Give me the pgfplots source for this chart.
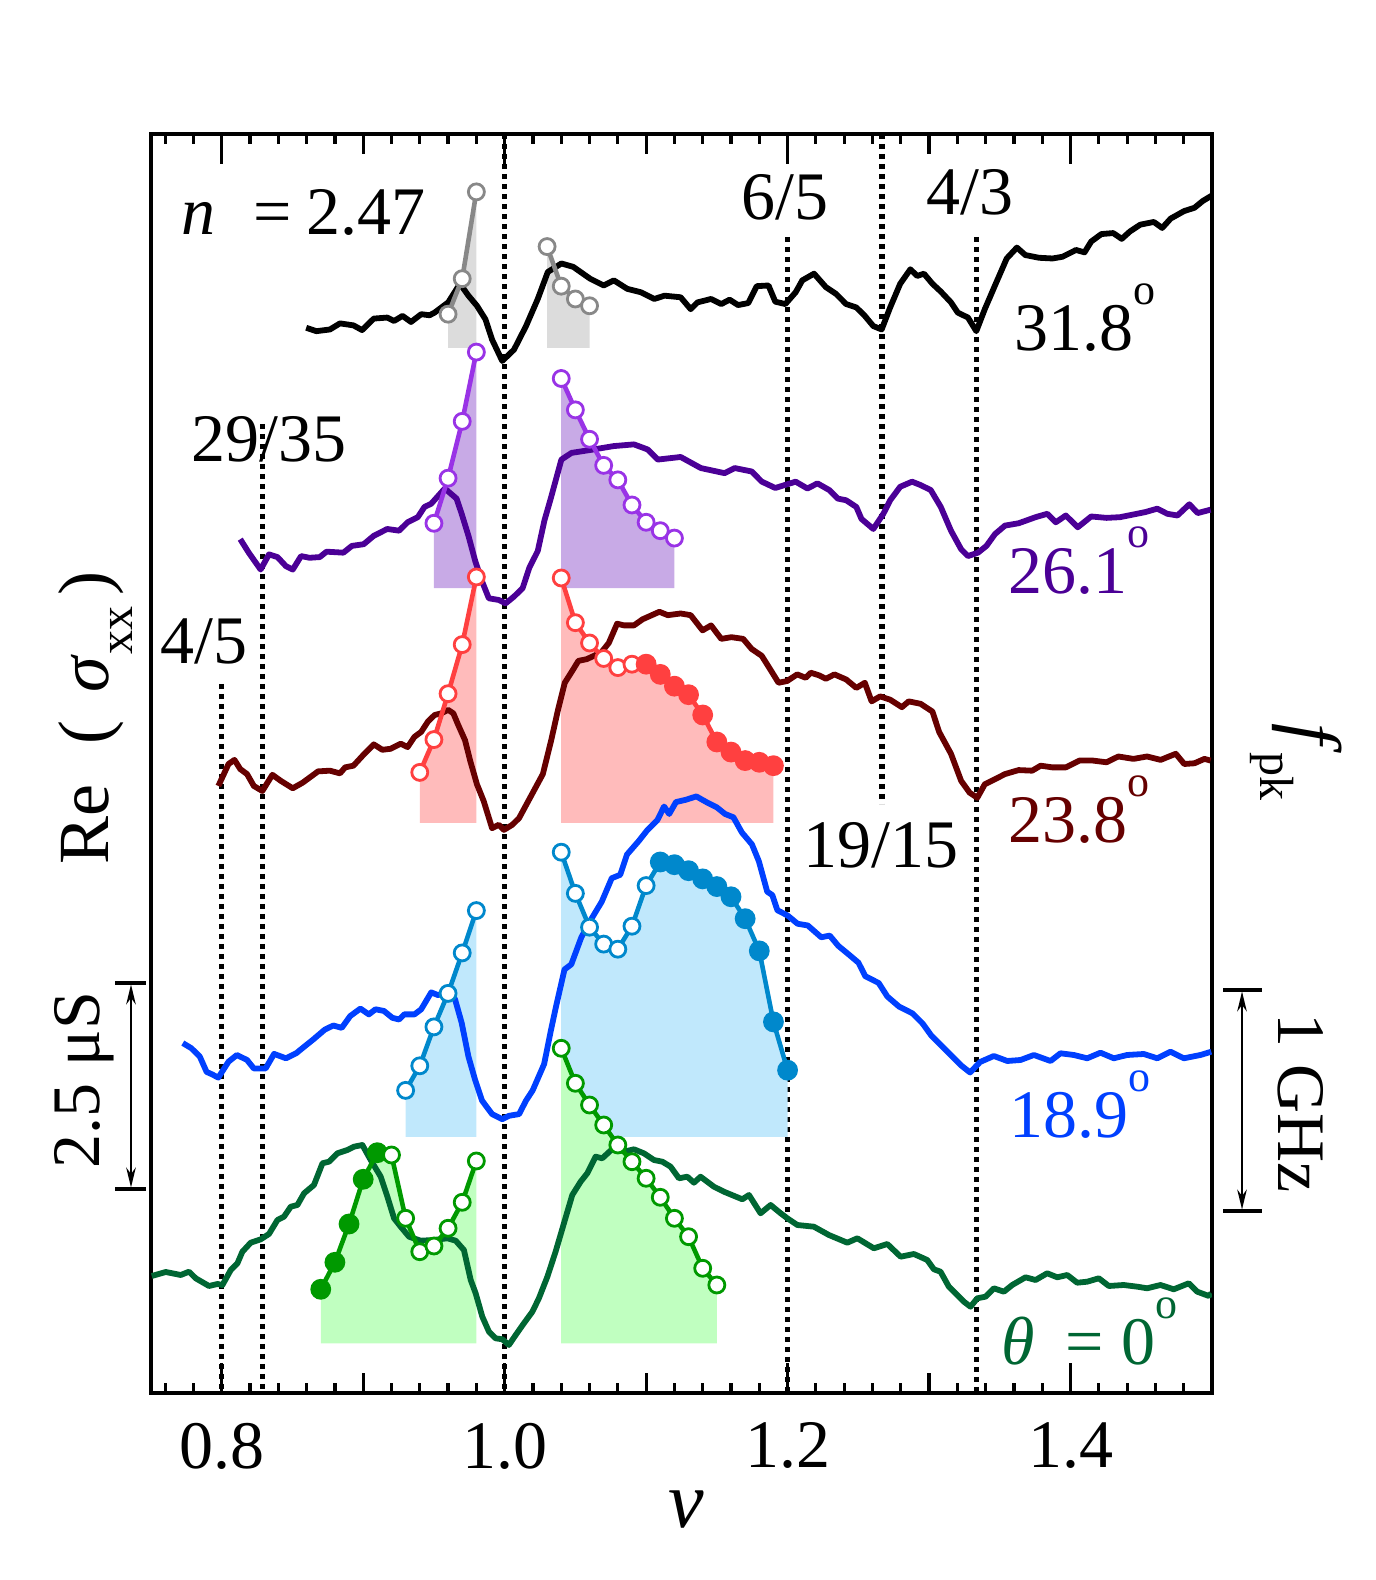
\documentclass[border=0pt]{standalone}
\usepackage{fontspec}
\setmainfont{Liberation Serif}
\usepackage{pgfplots}
\pgfplotsset{compat=1.18}
\usetikzlibrary{arrows.meta}
\definecolor{cPurple}{HTML}{4B0096}
\definecolor{cPurpleM}{HTML}{9933E6}
\definecolor{cPurpleF}{HTML}{C8AAE6}
\definecolor{cMaroon}{HTML}{660000}
\definecolor{cRed}{HTML}{FF4040}
\definecolor{cRedF}{HTML}{FFBBBB}
\definecolor{cBlue}{HTML}{0040FF}
\definecolor{cBlueM}{HTML}{0088CC}
\definecolor{cBlueF}{HTML}{C0E8FC}
\definecolor{cGreen}{HTML}{006633}
\definecolor{cGreenM}{HTML}{009900}
\definecolor{cGreenF}{HTML}{C0FFC0}
\definecolor{cGray}{HTML}{888888}
\definecolor{cGrayF}{HTML}{DCDCDC}
\newcommand{\dg}{\raisebox{11.5pt}{\fontsize{11}{11}\selectfont o}}
\pgfplotsset{
  dotline/.style={black, line width=1.3pt, dash pattern=on 1.3pt off 1.2pt, forget plot},
  curve/.style={line width=1.45pt, line join=round, mark=none},
  mline/.style={line width=1.15pt, line join=round, mark=none},
  omark/.style={only marks, mark=*, mark size=2.0pt, mark options={draw=#1, fill=white, line width=0.7pt}},
  fmark/.style={only marks, mark=*, mark size=2.4pt, mark options={draw=#1, fill=#1, line width=0.4pt}},
}
\begin{document}
\fontsize{17}{20}\selectfont
\begin{tikzpicture}
\useasboundingbox (0,0) rectangle (343.75pt,395pt);
\begin{axis}[
  at={(37.75pt,46.75pt)}, anchor=south west,
  scale only axis, width=265.25pt, height=314.75pt,
  xmin=0.75, xmax=1.5, ymin=-1393, ymax=-134,
  ytick=\empty,
  xtick={0.8,1.0,1.2,1.4}, xticklabels={0.8,1.0,1.2,1.4},
  minor xtick={0.76,0.78,0.82,0.84,0.86,0.88,0.92,0.94,0.96,0.98,1.02,1.04,1.06,1.08,1.12,1.14,1.16,1.18,1.22,1.24,1.26,1.28,1.32,1.34,1.36,1.38,1.42,1.44,1.46,1.48},
  extra x ticks={0.9,1.1,1.3}, extra x tick labels={},
  extra x tick style={tickwidth=5pt, grid=none},
  tick align=inside, xtick pos=both,
  tickwidth=7.5pt, subtickwidth=2.5pt,
  every tick/.style={draw=black, line width=0.8pt},
  axis line style={line width=1pt},
  tick label style={font=\fontsize{17}{17}\selectfont},
  xticklabel style={inner sep=0pt, yshift=-7.25pt},
  /pgf/number format/assume math mode=true,
]
% reference lines
\addplot[dotline] coordinates {(0.8,-684) (0.8,-1393)};
\addplot[dotline] coordinates {(0.828571,-424) (0.828571,-1393)};
\addplot[dotline] coordinates {(1.0,-134) (1.0,-1393)};
\addplot[dotline] coordinates {(1.2,-237) (1.2,-1393)};
\addplot[dotline] coordinates {(1.266667,-134) (1.266667,-804)};
\addplot[dotline] coordinates {(1.333333,-237) (1.333333,-1393)};
% fills
\addplot[fill=cGrayF, draw=none] coordinates {(0.96,-348) (0.96,-314.2) (0.97,-278.7) (0.98,-191.9) (0.98,-348)} --cycle;
\addplot[fill=cGrayF, draw=none] coordinates {(1.03,-348) (1.03,-246.6) (1.04,-286.2) (1.05,-299.0) (1.06,-305.8) (1.06,-348)} --cycle;
\addplot[fill=cPurpleF, draw=none] coordinates {(0.95,-588.2) (0.95,-523.3) (0.96,-478.2) (0.97,-421.4) (0.98,-352.1) (0.98,-588.2)} --cycle;
\addplot[fill=cPurpleF, draw=none] coordinates {(1.04,-588.2) (1.04,-378.5) (1.05,-409.9) (1.06,-439.3) (1.07,-465.4) (1.08,-479.9) (1.09,-505.0) (1.10,-522.3) (1.11,-530.7) (1.12,-538.1) (1.12,-588.2)} --cycle;
\addplot[fill=cRedF, draw=none] coordinates {(0.94,-823) (0.94,-772.4) (0.95,-739.6) (0.96,-693.7) (0.97,-644.6) (0.98,-577.0) (0.98,-823)} --cycle;
\addplot[fill=cRedF, draw=none] coordinates {(1.04,-823) (1.04,-578.0) (1.05,-622.7) (1.06,-643.0) (1.07,-658.5) (1.08,-667.6) (1.09,-664.2) (1.10,-664.2) (1.11,-674.4) (1.12,-686.2) (1.13,-694.7) (1.14,-715.0) (1.15,-742.0) (1.16,-752.1) (1.17,-760.6) (1.18,-762.3) (1.19,-765.7) (1.19,-823)} --cycle;
\addplot[fill=cBlueF, draw=none] coordinates {(0.93,-1137) (0.93,-1090.4) (0.94,-1065.8) (0.95,-1026.9) (0.96,-993.4) (0.97,-952.9) (0.98,-910.6) (0.98,-1137)} --cycle;
\addplot[fill=cBlueF, draw=none] coordinates {(1.04,-1137) (1.04,-852.2) (1.05,-893.4) (1.06,-927.2) (1.07,-944.1) (1.08,-949.2) (1.09,-926.2) (1.10,-885.6) (1.11,-862.0) (1.12,-864.7) (1.13,-870.7) (1.14,-878.9) (1.15,-886.6) (1.16,-896.8) (1.17,-918.7) (1.18,-950.9) (1.19,-1021.9) (1.20,-1070.2) (1.20,-1137)} --cycle;
\addplot[fill=cGreenF, draw=none] coordinates {(0.87,-1343.3) (0.87,-1289.3) (0.88,-1262.3) (0.89,-1224) (0.90,-1179.3) (0.91,-1152.7) (0.92,-1155) (0.93,-1218.3) (0.94,-1251.7) (0.95,-1246) (0.96,-1228.3) (0.97,-1202.3) (0.98,-1161) (0.98,-1343.3)} --cycle;
\addplot[fill=cGreenF, draw=none] coordinates {(1.04,-1343.3) (1.04,-1048.3) (1.05,-1083.3) (1.06,-1105) (1.07,-1125) (1.08,-1145) (1.09,-1161.7) (1.10,-1178.3) (1.11,-1197.3) (1.12,-1218.3) (1.13,-1236.7) (1.14,-1268.3) (1.15,-1285) (1.15,-1343.3)} --cycle;
% curves
\addplot[curve, black] coordinates {(0.8597,-327.8)(0.8669,-331.2)(0.8765,-329.5)(0.8836,-323.4)(0.8931,-325.4)(0.8992,-330.1)(0.9075,-318.6)(0.9170,-317.6)(0.9218,-321.0)(0.9278,-315.9)(0.9338,-322.0)(0.9410,-314.2)(0.9469,-315.3)(0.9505,-312.6)(0.9601,-302.4)(0.9684,-283.8)(0.9744,-295.7)(0.9804,-305.8)(0.9864,-319.3)(0.9911,-339.6)(0.9983,-361.0)(1.0066,-349.7)(1.0151,-326.1)(1.0234,-299.0)(1.0305,-272.0)(1.0401,-263.5)(1.0485,-266.9)(1.0604,-278.7)(1.0700,-285.5)(1.0772,-280.4)(1.0867,-288.9)(1.0963,-292.3)(1.1058,-299.0)(1.1130,-295.7)(1.1244,-297.3)(1.1315,-309.2)(1.1363,-302.4)(1.1459,-299.0)(1.1531,-304.1)(1.1590,-299.7)(1.1650,-305.1)(1.1722,-303.1)(1.1782,-286.2)(1.1865,-285.5)(1.1913,-301.7)(1.1984,-304.1)(1.2057,-292.3)(1.2104,-280.4)(1.2187,-273.7)(1.2271,-287.2)(1.2343,-294.0)(1.2414,-304.1)(1.2486,-307.5)(1.2546,-315.9)(1.2606,-326.1)(1.2665,-329.5)(1.2725,-307.5)(1.2796,-283.8)(1.2868,-269.3)(1.2916,-276.0)(1.2964,-273.7)(1.3024,-283.8)(1.3083,-291.6)(1.3155,-302.4)(1.3203,-312.6)(1.3275,-317.6)(1.3334,-331.2)(1.3394,-309.2)(1.3466,-285.5)(1.3549,-258.5)(1.3621,-247.6)(1.3681,-255.1)(1.3777,-257.8)(1.3872,-258.5)(1.3943,-256.8)(1.4039,-250.0)(1.4099,-252.4)(1.4146,-241.6)(1.4218,-234.1)(1.4302,-233.1)(1.4362,-238.9)(1.4421,-231.4)(1.4493,-224.7)(1.4589,-222.0)(1.4648,-228.0)(1.4708,-218.6)(1.4803,-211.1)(1.4876,-207.8)(1.4935,-201.0)(1.4995,-195.9)};
\addplot[curve, cPurple] coordinates {(0.8131,-539.2)(0.8191,-552.7)(0.8275,-569.6)(0.8334,-554.4)(0.8394,-557.1)(0.8454,-566.2)(0.8502,-569.6)(0.8561,-556.1)(0.8621,-557.8)(0.8693,-557.1)(0.8741,-551.7)(0.8860,-552.7)(0.8920,-545.9)(0.9004,-544.2)(0.9075,-535.8)(0.9170,-529.0)(0.9254,-530.7)(0.9314,-522.3)(0.9386,-517.2)(0.9433,-507.0)(0.9481,-503.7)(0.9577,-488.5)(0.9660,-498.6)(0.9696,-513.8)(0.9744,-535.8)(0.9792,-561.1)(0.9840,-581.4)(0.9888,-598.3)(0.9959,-600.0)(1.0007,-603.4)(1.0066,-596.6)(1.0127,-588.2)(1.0174,-567.9)(1.0234,-551.0)(1.0281,-520.6)(1.0329,-496.9)(1.0377,-472.0)(1.0401,-459.6)(1.0473,-452.9)(1.0628,-449.5)(1.0772,-446.1)(1.0914,-444.4)(1.1011,-449.5)(1.1082,-459.6)(1.1244,-457.0)(1.1387,-468.1)(1.1555,-473.2)(1.1626,-468.1)(1.1746,-471.5)(1.1817,-481.6)(1.1913,-488.0)(1.2057,-481.7)(1.2140,-488.5)(1.2211,-483.4)(1.2295,-490.1)(1.2355,-498.6)(1.2414,-500.3)(1.2486,-507.0)(1.2522,-518.9)(1.2606,-529.0)(1.2677,-513.8)(1.2725,-500.3)(1.2796,-486.8)(1.2880,-481.7)(1.2940,-485.1)(1.3012,-490.1)(1.3083,-507.0)(1.3155,-530.7)(1.3227,-549.3)(1.3275,-556.1)(1.3346,-552.7)(1.3406,-545.9)(1.3466,-534.1)(1.3537,-525.6)(1.3633,-523.3)(1.3753,-517.2)(1.3836,-513.8)(1.3896,-522.3)(1.3967,-515.5)(1.4051,-527.3)(1.4146,-516.5)(1.4254,-517.9)(1.4350,-517.2)(1.4529,-512.1)(1.4613,-508.7)(1.4684,-513.8)(1.4756,-515.5)(1.4840,-504.3)(1.4899,-513.1)(1.4990,-509.7)};
\addplot[curve, cMaroon] coordinates {(0.7976,-786.0)(0.8048,-764.0)(0.8090,-759.9)(0.8131,-769.1)(0.8179,-774.1)(0.8227,-786.0)(0.8287,-791.0)(0.8358,-774.8)(0.8418,-780.9)(0.8502,-788.3)(0.8573,-782.6)(0.8681,-771.4)(0.8765,-770.7)(0.8836,-773.4)(0.8872,-767.4)(0.8931,-765.7)(0.9004,-754.5)(0.9075,-744.4)(0.9135,-749.8)(0.9194,-748.8)(0.9266,-743.7)(0.9314,-747.1)(0.9362,-736.9)(0.9410,-731.9)(0.9457,-721.7)(0.9505,-715.0)(0.9553,-713.3)(0.9601,-709.9)(0.9637,-713.3)(0.9672,-725.1)(0.9720,-740.3)(0.9756,-760.6)(0.9804,-784.3)(0.9852,-801.2)(0.9911,-828.2)(0.9959,-824.8)(0.9995,-829.9)(1.0054,-824.8)(1.0102,-818.1)(1.0186,-796.1)(1.0270,-774.1)(1.0329,-740.3)(1.0377,-709.9)(1.0425,-682.8)(1.0485,-669.3)(1.0521,-660.9)(1.0580,-659.2)(1.0683,-652.4)(1.0736,-643.0)(1.0795,-623.7)(1.0843,-625.4)(1.0914,-625.4)(1.0975,-619.3)(1.1094,-611.8)(1.1153,-615.2)(1.1244,-613.5)(1.1315,-615.2)(1.1399,-630.4)(1.1459,-625.4)(1.1531,-638.9)(1.1602,-637.2)(1.1686,-638.9)(1.1746,-649.0)(1.1817,-655.8)(1.1877,-669.3)(1.1936,-682.8)(1.1996,-681.1)(1.2068,-674.4)(1.2128,-677.8)(1.2164,-672.7)(1.2223,-675.4)(1.2271,-678.8)(1.2331,-674.4)(1.2414,-679.5)(1.2486,-687.9)(1.2546,-682.8)(1.2594,-701.4)(1.2654,-696.4)(1.2725,-699.7)(1.2808,-707.2)(1.2856,-701.4)(1.2940,-703.8)(1.3024,-711.6)(1.3071,-731.9)(1.3155,-753.8)(1.3227,-780.9)(1.3287,-792.7)(1.3341,-797.8)(1.3394,-784.3)(1.3466,-779.2)(1.3537,-774.1)(1.3633,-770.1)(1.3729,-770.7)(1.3789,-765.7)(1.3872,-767.4)(1.3967,-767.4)(1.4063,-760.6)(1.4158,-760.6)(1.4254,-762.3)(1.4338,-756.5)(1.4445,-758.9)(1.4541,-756.5)(1.4637,-759.9)(1.4744,-753.8)(1.4804,-764.0)(1.4876,-763.3)(1.4947,-758.9)(1.4990,-760.6)};
\addplot[curve, cBlue] coordinates {(0.7725,-1043.1)(0.7785,-1048.2)(0.7845,-1056.6)(0.7893,-1071.9)(0.7929,-1074.2)(0.7976,-1077.6)(0.8048,-1061.7)(0.8107,-1055.0)(0.8179,-1060.0)(0.8227,-1068.5)(0.8310,-1068.5)(0.8370,-1053.9)(0.8454,-1058.3)(0.8526,-1053.3)(0.8585,-1046.5)(0.8645,-1039.7)(0.8729,-1029.6)(0.8789,-1025.5)(0.8848,-1027.9)(0.8908,-1016.1)(0.8980,-1008.6)(0.9040,-1014.4)(0.9087,-1009.3)(0.9147,-1011.0)(0.9206,-1017.8)(0.9254,-1019.5)(0.9290,-1014.4)(0.9362,-1014.4)(0.9410,-1009.3)(0.9481,-992.4)(0.9529,-995.1)(0.9577,-992.4)(0.9613,-992.4)(0.9649,-999.2)(0.9696,-1022.8)(0.9744,-1056.6)(0.9792,-1080.3)(0.9840,-1100.6)(0.9911,-1114.1)(0.9983,-1119.2)(1.0031,-1115.8)(1.0102,-1114.1)(1.0151,-1100.6)(1.0198,-1090.4)(1.0279,-1064.1)(1.0327,-1030.3)(1.0363,-1006.6)(1.0423,-969.5)(1.0471,-964.4)(1.0542,-937.3)(1.0614,-918.7)(1.0686,-901.8)(1.0757,-878.2)(1.0817,-874.8)(1.0865,-854.5)(1.0948,-841.0)(1.1008,-830.2)(1.1080,-820.0)(1.1127,-806.5)(1.1163,-814.0)(1.1211,-802.1)(1.1283,-799.7)(1.1355,-796.4)(1.1426,-802.1)(1.1498,-807.2)(1.1558,-814.0)(1.1617,-817.3)(1.1677,-832.5)(1.1748,-844.4)(1.1797,-861.3)(1.1856,-891.7)(1.1892,-895.1)(1.1928,-910.3)(1.1999,-915.4)(1.2071,-923.8)(1.2143,-925.5)(1.2238,-937.3)(1.2298,-935.6)(1.2358,-945.8)(1.2430,-954.2)(1.2501,-962.7)(1.2549,-976.2)(1.2644,-983.0)(1.2705,-996.5)(1.2788,-1006.6)(1.2883,-1013.4)(1.2955,-1023.6)(1.3015,-1035.4)(1.3086,-1045.5)(1.3158,-1055.7)(1.3230,-1065.8)(1.3290,-1072.5)(1.3361,-1062.0)(1.3458,-1056.0)(1.3553,-1061.0)(1.3647,-1060.0)(1.3741,-1055.0)(1.3859,-1061.0)(1.3929,-1053.3)(1.4023,-1055.0)(1.4118,-1058.3)(1.4212,-1052.7)(1.4306,-1058.3)(1.4400,-1055.0)(1.4518,-1054.0)(1.4613,-1058.3)(1.4707,-1051.7)(1.4801,-1058.3)(1.4919,-1055.0)(1.4995,-1051.7)};
\addplot[curve, cGreen] coordinates {(0.7505,-1276)(0.7604,-1272)(0.7710,-1275)(0.7769,-1271.7)(0.7816,-1278.3)(0.7910,-1286)(0.7970,-1284)(0.8005,-1285)(0.8064,-1270)(0.8111,-1263.3)(0.8146,-1251.7)(0.8205,-1242.7)(0.8276,-1239.3)(0.8334,-1234)(0.8394,-1220)(0.8440,-1216.7)(0.8488,-1206.7)(0.8535,-1205)(0.8582,-1193.3)(0.8652,-1185)(0.8712,-1163.3)(0.8758,-1161.7)(0.8818,-1153.3)(0.8888,-1150)(0.8935,-1146.7)(0.8994,-1145)(0.9053,-1160)(0.9124,-1176.7)(0.9171,-1196.7)(0.9218,-1218.3)(0.9265,-1226.7)(0.9324,-1236.7)(0.9406,-1240.7)(0.9500,-1240)(0.9595,-1238.3)(0.9654,-1240.7)(0.9712,-1250)(0.9760,-1280)(0.9795,-1293.3)(0.9842,-1316.7)(0.9889,-1331.7)(0.9936,-1338.3)(0.9984,-1339.3)(1.0030,-1345)(1.0078,-1335)(1.0136,-1323.3)(1.0196,-1311.7)(1.0242,-1298.3)(1.0302,-1276.7)(1.0360,-1251.7)(1.0419,-1223.3)(1.0478,-1195)(1.0537,-1181.7)(1.0584,-1173.3)(1.0643,-1156.7)(1.0690,-1158.3)(1.0784,-1146)(1.0843,-1151.7)(1.0914,-1149.3)(1.0984,-1153.3)(1.1055,-1160)(1.1115,-1161.7)(1.1173,-1166.7)(1.1232,-1178.3)(1.1291,-1176.7)(1.1338,-1182.7)(1.1385,-1176.7)(1.1479,-1186.7)(1.1550,-1191.7)(1.1680,-1199.3)(1.1727,-1195)(1.1809,-1213.3)(1.1880,-1205)(1.1951,-1213.3)(1.1998,-1218.3)(1.2069,-1225)(1.2186,-1226.7)(1.2292,-1235)(1.2422,-1242.7)(1.2493,-1238.3)(1.2610,-1248.3)(1.2705,-1244)(1.2799,-1256.7)(1.2893,-1254)(1.2987,-1260)(1.3034,-1269.3)(1.3081,-1271.7)(1.3140,-1286.7)(1.3199,-1295)(1.3246,-1301.7)(1.3293,-1306.7)(1.3341,-1298.3)(1.3399,-1296.7)(1.3458,-1288.3)(1.3529,-1291.7)(1.3588,-1285)(1.3682,-1277.3)(1.3753,-1280)(1.3835,-1273.3)(1.3906,-1277.3)(1.3977,-1275)(1.4047,-1282.7)(1.4118,-1281.7)(1.4200,-1278.3)(1.4271,-1286)(1.4377,-1285)(1.4472,-1286.7)(1.4542,-1288.3)(1.4636,-1285)(1.4730,-1289.3)(1.4836,-1283.3)(1.4896,-1291.7)(1.4978,-1296)(1.4995,-1293.3)};
% f_pk marker series: gray (31.8)
\addplot[mline, cGray] coordinates {(0.96,-314.2) (0.97,-278.7) (0.98,-191.9)};
\addplot[mline, cGray] coordinates {(1.03,-246.6) (1.04,-286.2) (1.05,-299.0) (1.06,-305.8)};
\addplot[omark=cGray] coordinates {(0.96,-314.2) (0.97,-278.7) (0.98,-191.9) (1.03,-246.6) (1.04,-286.2) (1.05,-299.0) (1.06,-305.8)};
% purple (26.1)
\addplot[mline, cPurpleM] coordinates {(0.95,-523.3) (0.96,-478.2) (0.97,-421.4) (0.98,-352.1)};
\addplot[mline, cPurpleM] coordinates {(1.04,-378.5) (1.05,-409.9) (1.06,-439.3) (1.07,-465.4) (1.08,-479.9) (1.09,-505.0) (1.10,-522.3) (1.11,-530.7) (1.12,-538.1)};
\addplot[omark=cPurpleM] coordinates {(0.95,-523.3) (0.96,-478.2) (0.97,-421.4) (0.98,-352.1) (1.04,-378.5) (1.05,-409.9) (1.06,-439.3) (1.07,-465.4) (1.08,-479.9) (1.09,-505.0) (1.10,-522.3) (1.11,-530.7) (1.12,-538.1)};
% red (23.8)
\addplot[mline, cRed] coordinates {(0.94,-772.4) (0.95,-739.6) (0.96,-693.7) (0.97,-644.6) (0.98,-577.0)};
\addplot[mline, cRed] coordinates {(1.04,-578.0) (1.05,-622.7) (1.06,-643.0) (1.07,-658.5) (1.08,-667.6) (1.09,-664.2) (1.10,-664.2) (1.11,-674.4) (1.12,-686.2) (1.13,-694.7) (1.14,-715.0) (1.15,-742.0) (1.16,-752.1) (1.17,-760.6) (1.18,-762.3) (1.19,-765.7)};
\addplot[omark=cRed] coordinates {(0.94,-772.4) (0.95,-739.6) (0.96,-693.7) (0.97,-644.6) (0.98,-577.0) (1.04,-578.0) (1.05,-622.7) (1.06,-643.0) (1.07,-658.5) (1.08,-667.6) (1.09,-664.2)};
\addplot[fmark=cRed] coordinates {(1.10,-664.2) (1.11,-674.4) (1.12,-686.2) (1.13,-694.7) (1.14,-715.0) (1.15,-742.0) (1.16,-752.1) (1.17,-760.6) (1.18,-762.3) (1.19,-765.7)};
% blue (18.9)
\addplot[mline, cBlueM] coordinates {(0.93,-1090.4) (0.94,-1065.8) (0.95,-1026.9) (0.96,-993.4) (0.97,-952.9) (0.98,-910.6)};
\addplot[mline, cBlueM] coordinates {(1.04,-852.2) (1.05,-893.4) (1.06,-927.2) (1.07,-944.1) (1.08,-949.2) (1.09,-926.2) (1.10,-885.6) (1.11,-862.0) (1.12,-864.7) (1.13,-870.7) (1.14,-878.9) (1.15,-886.6) (1.16,-896.8) (1.17,-918.7) (1.18,-950.9) (1.19,-1021.9) (1.20,-1070.2)};
\addplot[omark=cBlueM] coordinates {(0.93,-1090.4) (0.94,-1065.8) (0.95,-1026.9) (0.96,-993.4) (0.97,-952.9) (0.98,-910.6) (1.04,-852.2) (1.05,-893.4) (1.06,-927.2) (1.07,-944.1) (1.08,-949.2) (1.09,-926.2) (1.10,-885.6)};
\addplot[fmark=cBlueM] coordinates {(1.11,-862.0) (1.12,-864.7) (1.13,-870.7) (1.14,-878.9) (1.15,-886.6) (1.16,-896.8) (1.17,-918.7) (1.18,-950.9) (1.19,-1021.9) (1.20,-1070.2)};
% green (0)
\addplot[mline, cGreenM] coordinates {(0.87,-1289.3) (0.88,-1262.3) (0.89,-1224) (0.90,-1179.3) (0.91,-1152.7) (0.92,-1155) (0.93,-1218.3) (0.94,-1251.7) (0.95,-1246) (0.96,-1228.3) (0.97,-1202.3) (0.98,-1161)};
\addplot[mline, cGreenM] coordinates {(1.04,-1048.3) (1.05,-1083.3) (1.06,-1105) (1.07,-1125) (1.08,-1145) (1.09,-1161.7) (1.10,-1178.3) (1.11,-1197.3) (1.12,-1218.3) (1.13,-1236.7) (1.14,-1268.3) (1.15,-1285)};
\addplot[fmark=cGreenM] coordinates {(0.87,-1289.3) (0.88,-1262.3) (0.89,-1224) (0.90,-1179.3) (0.91,-1152.7)};
\addplot[omark=cGreenM] coordinates {(0.92,-1155) (0.93,-1218.3) (0.94,-1251.7) (0.95,-1246) (0.96,-1228.3) (0.97,-1202.3) (0.98,-1161) (1.04,-1048.3) (1.05,-1083.3) (1.06,-1105) (1.07,-1125) (1.08,-1145) (1.09,-1161.7) (1.10,-1178.3) (1.11,-1197.3) (1.12,-1218.3) (1.13,-1236.7) (1.14,-1268.3) (1.15,-1285)};
\end{axis}
% annotations in pixel coordinates of the 1375x1580 frame
\begin{scope}[yshift=395pt, x=0.25pt, y=-0.25pt]
\node[anchor=base west, inner sep=0pt] at (181,235) {\textit{n}\hspace{0.55em}=\hspace{0.22em}2.47};
\node[anchor=base, inner sep=0pt] at (785,220) {6/5};
\node[anchor=base, inner sep=0pt] at (970,215) {4/3};
\node[anchor=base west, inner sep=0pt] at (1014,351) {31.8\dg};
\node[anchor=base, inner sep=0pt] at (269,462) {29/35};
\node[anchor=base west, inner sep=0pt, text=cPurple] at (1008,594) {26.1\dg};
\node[anchor=base, inner sep=0pt] at (204,664) {4/5};
\node[anchor=base west, inner sep=0pt, text=cMaroon] at (1008,843) {23.8\dg};
\node[anchor=base, inner sep=0pt] at (881,868) {19/15};
\node[anchor=base west, inner sep=0pt, text=cBlue] at (1009,1138) {18.9\dg};
\node[anchor=base west, inner sep=0pt, text=cGreen] at (1001,1365) {\textit{θ}\hspace{0.45em}=\hspace{0.25em}0\dg};
\node[anchor=base, inner sep=0pt] at (686,1528) {\fontsize{20}{20}\selectfont\textit{ν}};
\node[rotate=90, anchor=base, inner sep=0pt] at (108,718) {\fontsize{18}{18}\selectfont Re\hspace{0.55em}(\hspace{0.4em}\textit{σ}\raisebox{-6pt}{\fontsize{12}{12}\selectfont xx}\hspace{0.15em})};
\node[rotate=90, anchor=base, inner sep=0pt] at (99,1080) {2.5 μS};
\node[rotate=-90, anchor=base, inner sep=0pt] at (1278,1103) {1 GHz};
\node[rotate=-90, anchor=base, inner sep=0pt] at (1288,762) {\fontsize{19}{19}\selectfont\textit{f}\raisebox{-7pt}{\fontsize{12}{12}\selectfont pk}};
\draw[line width=1pt] (115,983) -- (146,983);
\draw[line width=1pt] (115,1189) -- (146,1189);
\draw[line width=0.5pt, {Stealth[length=5pt,width=2.4pt]}-{Stealth[length=5pt,width=2.4pt]}] (131,984.5) -- (131,1187.5);
\draw[line width=1pt] (1223,990) -- (1262,990);
\draw[line width=1pt] (1223,1211) -- (1262,1211);
\draw[line width=0.5pt, {Stealth[length=5pt,width=2.4pt]}-{Stealth[length=5pt,width=2.4pt]}] (1242,991.5) -- (1242,1209.5);
\end{scope}
\end{tikzpicture}
\end{document}
